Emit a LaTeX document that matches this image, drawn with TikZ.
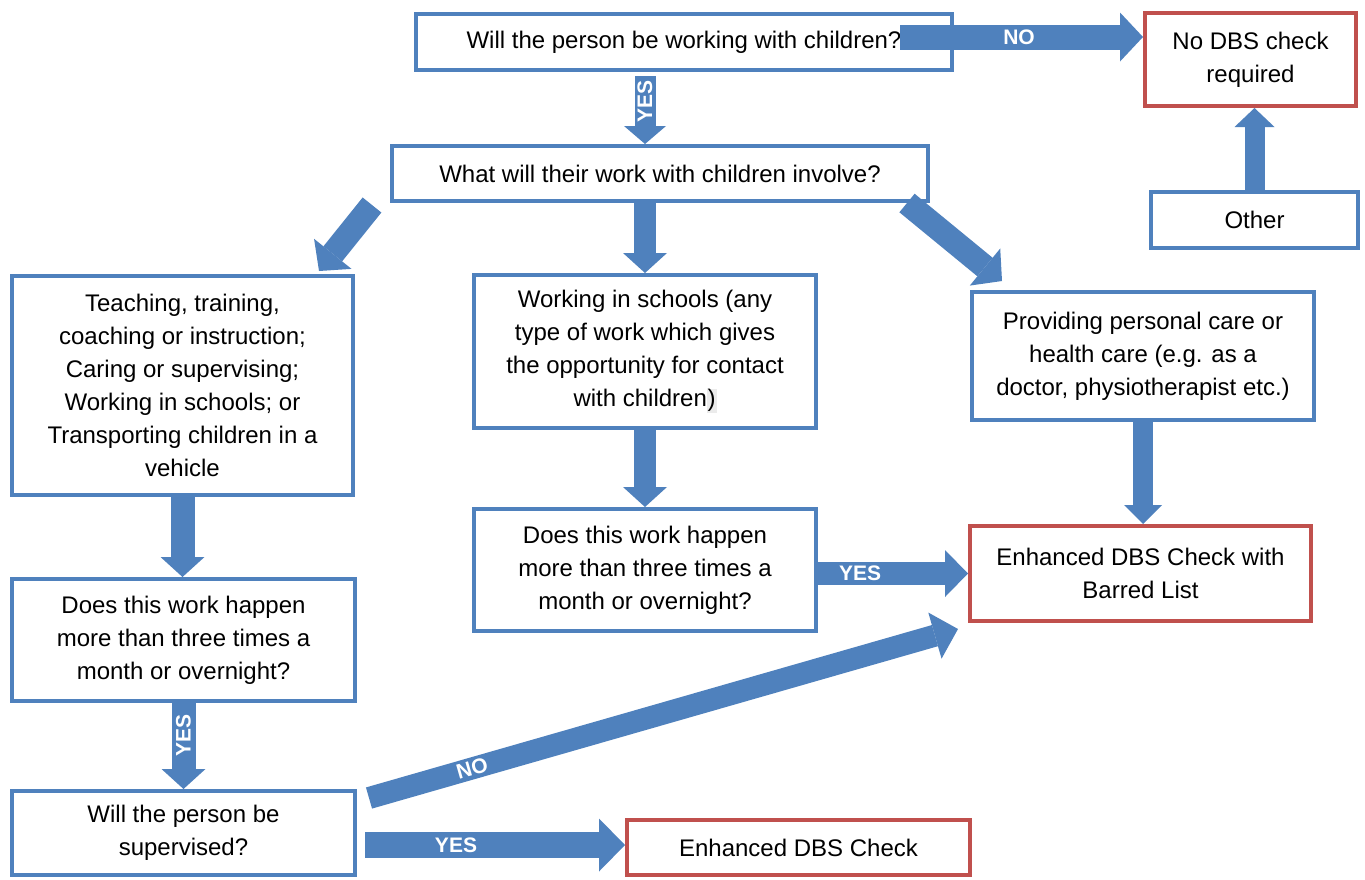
\documentclass[tikz,border=0pt]{standalone}
\usepackage{fontspec}
\setmainfont{Liberation Sans}
\usetikzlibrary{arrows.meta}
\definecolor{dbsblue}{HTML}{4F81BD}
\definecolor{dbsred}{HTML}{C0504D}
\tikzset{
  qbox/.style={draw=dbsblue,line width=2pt,fill=white,align=center,inner sep=0pt,font=\fontsize{12}{16.5}\selectfont},
  rbox/.style={qbox,draw=dbsred},
  barrow/.style={draw=dbsblue,line width=11pt,-{Triangle[length=10pt,width=22pt,line width=0pt]}},
  lbl/.style={text=white,inner sep=0pt,font=\bfseries\fontsize{10.5}{12}\selectfont}
}
\begin{document}
\begin{tikzpicture}[x=0.5pt,y=-0.5pt]
  \fill[white] (0,0) rectangle (1365,879);
  \useasboundingbox (0,0) rectangle (1365,879);

  % Questions
  \node[qbox,minimum width=268pt,minimum height=28pt] (work) at (684,42) {Will the person be working with children?};
  \node[qbox,minimum width=268pt,minimum height=27.5pt] (involve) at (660,173.5) {What will their work with children involve?};
  \node[qbox,minimum width=103.5pt,minimum height=28pt] (other) at (1254.5,220) {Other};

  % Kinds of work
  \node[qbox,minimum width=170.5pt,minimum height=109.5pt] (teach) at (182.5,385.5) {Teaching, training,\\coaching or instruction;\\Caring or supervising;\\Working in schools; or\\Transporting children in a\\vehicle};
  \node[qbox,minimum width=171pt,minimum height=76.5pt] (schools) at (645,351.5) {Working in schools (any\\type of work which gives\\the opportunity for contact\\with children{\setlength{\fboxsep}{0.4pt}\colorbox{black!8}{)}}};
  \node[qbox,minimum width=171pt,minimum height=64pt] (care) at (1143,356) {Providing personal care or\\health care (e.g. as a\\doctor, physiotherapist etc.)};

  % Follow-up questions
  \node[qbox,minimum width=171pt,minimum height=61pt] (oftenmid) at (645,570) {Does this work happen\\more than three times a\\month or overnight?};
  \node[qbox,minimum width=171.5pt,minimum height=61pt] (oftenleft) at (183.5,640) {Does this work happen\\more than three times a\\month or overnight?};
  \node[qbox,minimum width=171.5pt,minimum height=42pt] (superv) at (183.5,833) {Will the person be\\supervised?};

  % Outcomes
  \node[rbox,minimum width=105.5pt,minimum height=46.5pt] (nodbs) at (1250.5,59.5) {No DBS check\\required};
  \node[rbox,minimum width=170.5pt,minimum height=47.5pt] (barred) at (1140.5,573.5) {Enhanced DBS Check with\\Barred List};
  \node[rbox,minimum width=171.5pt,minimum height=27.5pt] (enh) at (798.5,847.5) {Enhanced DBS Check};

  % Free ends of the arrows
  \coordinate (noStart) at (900,37);
  \coordinate (yesTop) at (645,76);
  \coordinate (leftStart) at (372,205);
  \coordinate (leftEnd) at (319,271);
  \coordinate (rightStart) at (907,203);
  \coordinate (rightEnd) at (1002,281);
  \coordinate (diagStart) at (369,798);
  \coordinate (diagEnd) at (958,629);
  \coordinate (yesStart) at (365,845);

  % Arrows
  \draw[barrow,line width=12.5pt,-{Triangle[length=11.5pt,width=24.5pt,line width=0pt]}] (noStart) -- node[lbl,pos=0.49] {NO} (nodbs.west |- noStart);
  \draw[barrow,line width=10.5pt,-{Triangle[length=9pt,width=21pt,line width=0pt]}] (yesTop) -- node[lbl,pos=0.37,rotate=90] {YES} (yesTop |- involve.north);
  \draw[barrow,line width=12pt,-{Triangle[length=11pt,width=24pt,line width=0pt]}] (leftStart) -- (leftEnd);
  \draw[barrow] (schools.north |- involve.south) -- (schools.north);
  \draw[barrow,line width=12pt,-{Triangle[length=11pt,width=24pt,line width=0pt]}] (rightStart) -- (rightEnd);
  \draw[barrow,line width=10pt,-{Triangle[length=9.5pt,width=20pt,line width=0pt]}] (other.north) -- (other.north |- nodbs.south);

  \draw[barrow,line width=12pt] (teach.south) -- (teach.south |- oftenleft.north);
  \draw[barrow,line width=12pt] (oftenleft.south) -- node[lbl,pos=0.38,rotate=90] {YES} (oftenleft.south |- superv.north);
  \draw[barrow] (schools.south) -- (oftenmid.north);
  \draw[barrow,line width=10pt,-{Triangle[length=9.5pt,width=19pt,line width=0pt]}] (care.south) -- (care.south |- barred.north);

  \draw[barrow,line width=11.5pt,-{Triangle[length=11.5pt,width=23.5pt,line width=0pt]}] (oftenmid.east |- barred.west) -- node[lbl,pos=0.28] {YES} (barred.west);
  \draw[barrow,-{Triangle[length=12pt,width=24pt,line width=0pt]}] (diagStart) -- node[lbl,pos=0.175,sloped] {NO} (diagEnd);
  \draw[barrow,line width=13pt,-{Triangle[length=13pt,width=26.5pt,line width=0pt]}] (yesStart) -- node[lbl,pos=0.35] {YES} (enh.west |- yesStart);
\end{tikzpicture}
\end{document}
